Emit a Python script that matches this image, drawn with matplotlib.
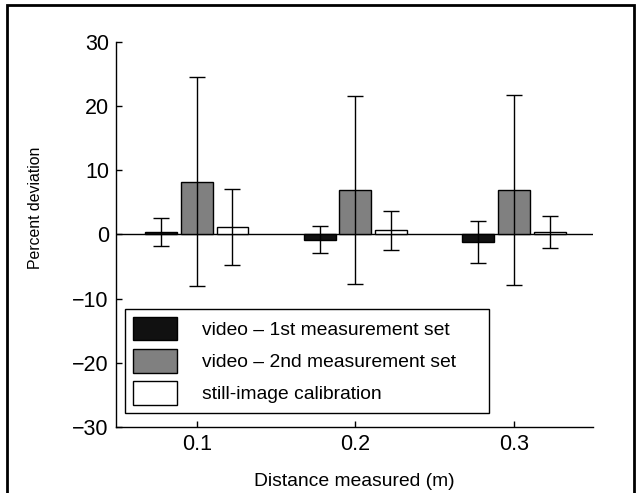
import numpy as np
import matplotlib
matplotlib.use("Agg")
import matplotlib.pyplot as plt
from matplotlib.patches import Rectangle

plt.rcParams['font.family'] = ['Liberation Sans', 'DejaVu Sans']

distances = [0.1, 0.2, 0.3]
labels = ['video \u2013 1st measurement set',
          'video \u2013 2nd measurement set',
          'still-image calibration']
means = {
    'video1': [0.4, -0.8, -1.2],
    'video2': [8.2, 6.9, 6.9],
    'still': [1.2, 0.65, 0.4],
}
errs = {
    'video1': [2.2, 2.1, 3.3],
    'video2': [16.3, 14.7, 14.8],
    'still': [5.95, 3.0, 2.5],
}
colors = ['#111111', '#808080', 'white']


def main():
    fig = plt.figure(figsize=(6.4, 4.93), dpi=100)
    ax = fig.add_axes([0.181, 0.134, 0.746, 0.781])

    x = np.array(distances)
    width = 0.02
    step = 0.0225
    for i, key in enumerate(['video1', 'video2', 'still']):
        xpos = x + (i - 1) * step
        ax.bar(xpos, means[key], width=width, color=colors[i],
               edgecolor='black', linewidth=1.0, label=labels[i], zorder=2)
        ax.errorbar(xpos, means[key], yerr=errs[key], fmt='none',
                    ecolor='black', elinewidth=1.0, capsize=5.8,
                    capthick=1.0, zorder=3)

    ax.axhline(0, color='black', linewidth=1.0, zorder=1)

    ax.set_xlim(0.049, 0.35)
    ax.set_ylim(-30, 30)
    ax.set_xticks(distances)
    ax.set_xticklabels(['0.1', '0.2', '0.3'])
    ax.set_yticks([-30, -20, -10, 0, 10, 20, 30])
    ax.set_yticklabels(['\u221230', '\u221220', '\u221210', '0', '10', '20', '30'])
    ax.tick_params(direction='in', length=4, width=1.0, labelsize=15.5, pad=5)

    for side in ['top', 'right']:
        ax.spines[side].set_visible(False)
    for side in ['left', 'bottom']:
        ax.spines[side].set_linewidth(1.0)

    ax.set_xlabel('Distance measured (m)', fontsize=13.9, labelpad=13)
    ax.set_ylabel('Percent deviation', fontsize=11.4)
    ax.yaxis.set_label_coords(-0.153, 0.57)

    # legend box stretched to the width seen in the original
    leg = ax.legend(loc='upper left', bbox_to_anchor=(0.019, 0.0, 0.763, 0.306),
                    mode='expand', borderaxespad=0, fontsize=13.9, frameon=True,
                    fancybox=False, edgecolor='black', framealpha=1,
                    handlelength=2.3, handleheight=1.5, handletextpad=1.3,
                    labelspacing=0.45, borderpad=0.4)
    leg.get_frame().set_linewidth(1.0)

    # frame round the whole figure
    fig.patches.append(Rectangle((7 / 640, -0.05), 627 / 640, 1.05 - 5 / 493,
                                 transform=fig.transFigure, fill=False,
                                 edgecolor='black', linewidth=2))

    fig.savefig('out.png', dpi=100)


if __name__ == "__main__":
    main()
